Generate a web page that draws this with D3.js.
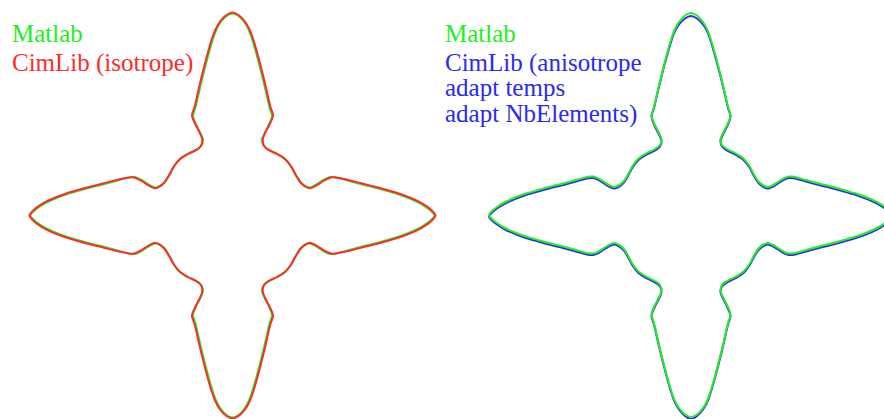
<!DOCTYPE html>
<html>
<head>
<meta charset="utf-8">
<script src="https://cdn.jsdelivr.net/npm/d3@7"></script>
<style>
  html, body { margin: 0; padding: 0; background: #ffffff; }
  svg { display: block; }
</style>
</head>
<body>
<svg id="chart" width="884" height="419"></svg>
<script>
// ---- Data (contour points, relative to crystal centre, y up) ----
// Matlab reference contour, upper-right quadrant (top tip -> right tip)
const matlabQuadrant = [
  [0,202],[6,199.5],[12,193],[16.5,185],[20,175],[23.5,163],[27,150],[30.5,136],[34,121],[37,108],
  [39.5,99.5],[36.5,91],[32,82],[29.5,75.5],[31,70],[36,66],[44,62],[52.5,56.5],[58.5,49],[63,40.5],
  [67.5,33.5],[72.5,29.5],[77,28],[83,30.5],[90,35],[97.5,38.5],[104,38],[115,35],[128,31.5],[140,28.5],
  [153,25],[165,21.5],[176,17.5],[186,13],[194,8],[199,4],[202,0]
];
// CimLib (isotrope) contour, upper-right quadrant
const isoQuadrant = [
  [0,203],[6,200.5],[12.5,194],[17,186],[20.8,176],[24.3,164],[27.8,151],[31.3,137],[34.8,122],[37.8,109],
  [40.5,100],[37.2,91.5],[32.6,82.5],[30.2,75.8],[31.6,69.5],[36.5,65.3],[44.5,61.5],[53,56],[59,48.5],[63.7,40],
  [68.2,33],[73,28.8],[77.2,27.2],[83.5,29.8],[90.5,34.3],[98.2,38],[104.5,37.7],[115.5,35.6],[128.5,32.2],[140.5,29.3],
  [153.5,25.8],[165.5,22.3],[176.5,18.3],[186.5,13.8],[195,8.6],[200,4.3],[203,0]
];
// CimLib (anisotrope) contour: upper-right quadrant (top tip -> right tip)
const anisoUpper = [
  [0,199],[6,196.5],[12,190.5],[16.5,183],[20,173],[23.5,161],[27,148.5],[30.5,134.5],[34,120],[37,107],
  [39.5,98.5],[36.5,89.5],[32,80.5],[29.5,74],[31,68.5],[36,64.5],[44,60.5],[52.5,55],[58.5,47.5],[63,39],
  [67.5,32],[72.5,28],[77,26.5],[83,29],[90,33.5],[97.5,37],[104,36.5],[115,33.5],[128,30],[140,27],
  [153,23.5],[165,20],[176,16],[186,11.5],[194,6.5],[199,2.5],[202,-1.5]
];
// CimLib (anisotrope) contour: lower-right quadrant (right tip -> bottom tip)
const anisoLower = [
  [199,-5.5],[194,-9.5],[186,-14.5],[176,-19],[165,-23],[153,-26.5],[140,-30],[128,-33],[115,-36.5],[104,-39.5],
  [97.5,-40],[90,-36.5],[83,-32],[77,-29.5],[72.5,-31],[67.5,-35],[63,-42],[58.5,-50.5],[52.5,-58],[44,-63.5],
  [36,-67.5],[31,-71.5],[29.5,-77],[32,-83.5],[36.5,-92.5],[39.5,-101],[37,-109.5],[34,-122.5],[30.5,-137.5],[27,-151.5],
  [23.5,-164.5],[20,-176.5],[16.5,-186.5],[12,-194.5],[6,-201],[0,-204]
];

const leftLegend = ["Matlab", "CimLib (isotrope)"];
const rightLegend = ["Matlab", "CimLib (anisotrope", "adapt temps", "adapt NbElements)"];

const COLORS = { matlab: "#22ee22", iso: "#ff2a2a", aniso: "#2a2aee" };
const FONT = "'Liberation Serif', 'DejaVu Serif', 'Times New Roman', Times, serif";

// ---- Helpers ----
// Close a contour given its right half (top tip -> right tip -> bottom tip),
// reflecting it about the vertical axis for the left half.
function closedFromRightHalf(rightHalf) {
  const left = rightHalf.slice(1, -1).reverse().map(([x, y]) => [-x, y]);
  return rightHalf.concat(left);
}
function symmetricRightHalf(quadrant) {
  const lower = quadrant.slice(0, -1).reverse().map(([x, y]) => [x, -y]);
  return quadrant.concat(lower);
}

const svg = d3.select("#chart");

function panel(cx, cy) {
  const x = d3.scaleLinear().domain([-210, 210]).range([cx - 210, cx + 210]);
  const y = d3.scaleLinear().domain([-210, 210]).range([cy + 210, cy - 210]);
  const line = d3.line().x(d => x(d[0])).y(d => y(d[1])).curve(d3.curveCatmullRomClosed.alpha(0.5));
  return { x, y, line };
}

// ---- Left panel ----
const L = panel(232.5, 215.5);
const gL = svg.append("g");
gL.append("path").datum(closedFromRightHalf(symmetricRightHalf(matlabQuadrant)))
  .attr("d", L.line).attr("fill", "none").attr("stroke", COLORS.matlab).attr("stroke-width", 2);
gL.append("path").datum(closedFromRightHalf(symmetricRightHalf(isoQuadrant)))
  .attr("d", L.line).attr("fill", "none").attr("stroke", COLORS.iso).attr("stroke-width", 2);

// ---- Right panel ----
const R = panel(691, 215);
const gR = svg.append("g");
gR.append("path").datum(closedFromRightHalf(anisoUpper.concat(anisoLower)))
  .attr("d", R.line).attr("fill", "none").attr("stroke", COLORS.aniso).attr("stroke-width", 2);
gR.append("path").datum(closedFromRightHalf(symmetricRightHalf(matlabQuadrant)))
  .attr("d", R.line).attr("fill", "none").attr("stroke", COLORS.matlab).attr("stroke-width", 2);

// ---- Legends ----
const leftY = [42, 71];
svg.append("g").selectAll("text").data(leftLegend).join("text")
  .attr("x", 12).attr("y", (d, i) => leftY[i])
  .attr("font-family", FONT).attr("font-size", 25)
  .attr("fill", (d, i) => i === 0 ? COLORS.matlab : COLORS.iso)
  .text(d => d);

const rightY = [42, 71, 96, 122];
svg.append("g").selectAll("text").data(rightLegend).join("text")
  .attr("x", 445).attr("y", (d, i) => rightY[i])
  .attr("font-family", FONT).attr("font-size", 25)
  .attr("fill", (d, i) => i === 0 ? COLORS.matlab : COLORS.aniso)
  .text(d => d);
</script>
</body>
</html>
